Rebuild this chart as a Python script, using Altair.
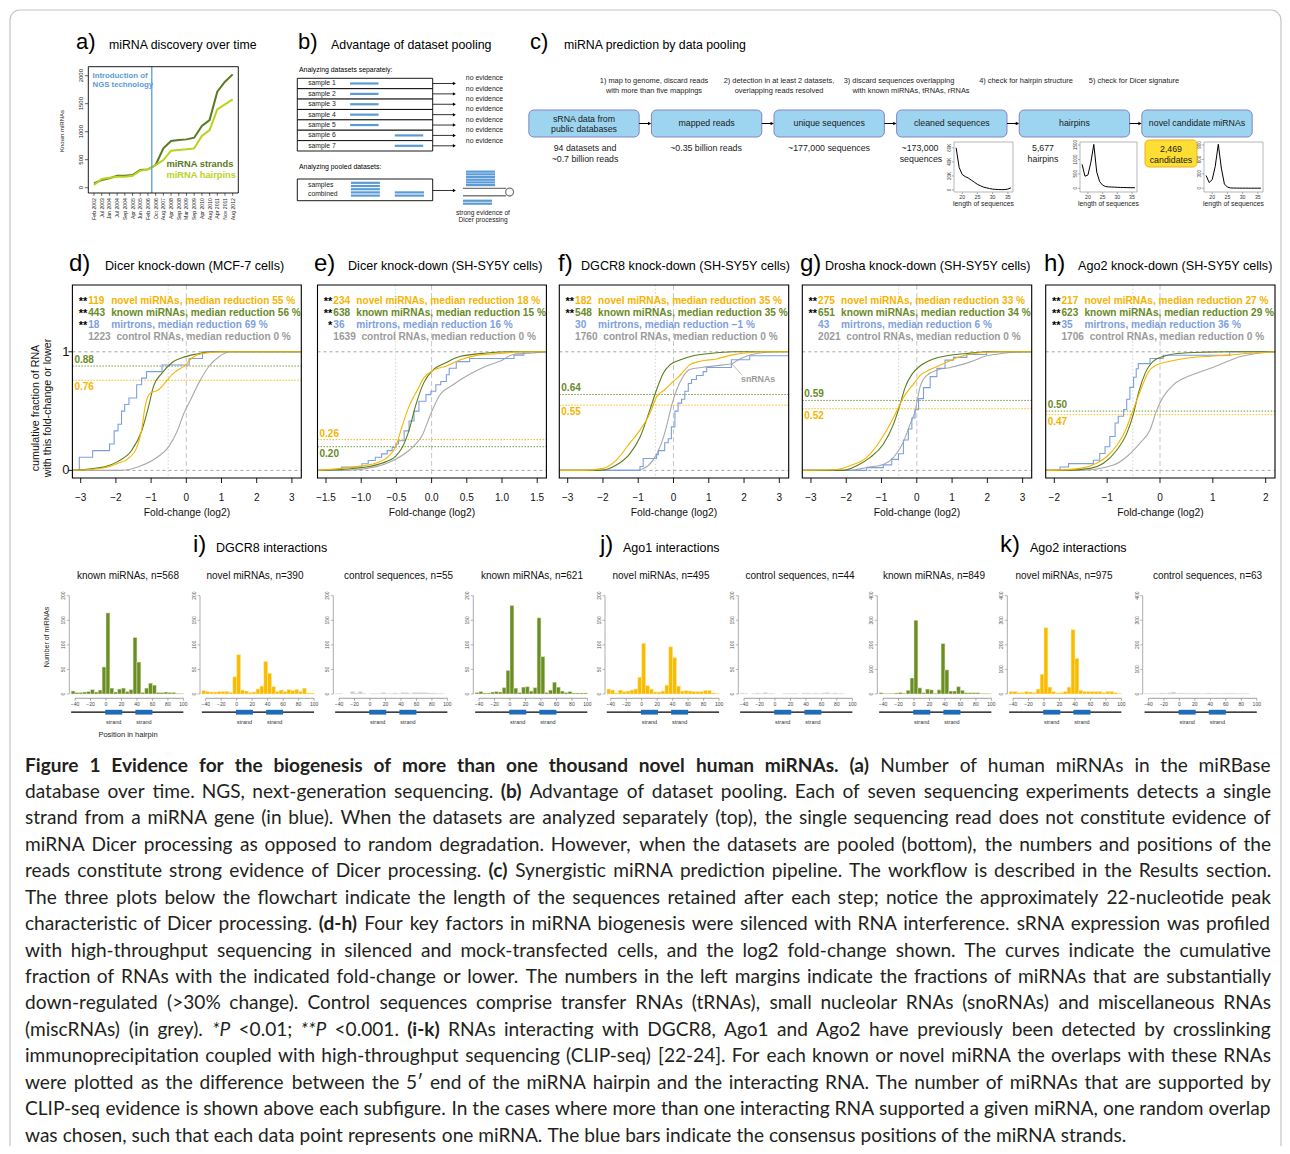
import os
import struct
import altair as alt
import pandas as pd

# ------------------------------------------------------------------ data
a_dates = ["Feb 2002", "Jul 2003", "Jan 2004", "Jul 2004", "Sep 2004", "Apr 2005", "Jun 2005",
           "Feb 2006", "Oct 2006", "Aug 2007", "Apr 2008", "Sep 2008", "Mar 2009", "Sep 2009",
           "Apr 2010", "Aug 2010", "Apr 2011", "Nov 2011", "Aug 2012"]
a_strands = [77, 137, 167, 214, 214, 226, 315, 327, 405, 702, 833, 851, 863, 893, 1101, 1208, 1714, 1893, 2024]
a_hairpins = [48, 155, 179, 196, 196, 214, 304, 327, 405, 494, 661, 673, 685, 702, 923, 1030, 1399, 1488, 1577]
a_yticks = [0, 500, 1000, 1500, 2000]

b_samples = ["sample 1", "sample 2", "sample 3", "sample 4", "sample 5", "sample 6", "sample 7"]
b_read_start = [39, 39, 39, 39, 39, 72, 72]
b_read_end = [60, 60, 60, 60, 60, 93, 93]
b_pool_level = [1, 2, 3, 4, 5, 1, 2]
b_pool_start = [39.6, 39.6, 39.6, 39.6, 39.6, 72, 72]
b_pool_end = [61, 61, 61, 61, 61, 93.6, 93.6]
b_hp_upper = [1.2, 2.2, 3.2, 4.2, 5.2, 6.2]
b_hp_lower = [-4.6, -5.7]

c_boxes = ["mapped reads", "unique sequences", "cleaned sequences", "hairpins", "novel candidate miRNAs"]
c_steps1 = ["1) map to genome, discard reads", "2) detection in at least 2 datasets,",
            "3) discard sequences overlapping", "4) check for hairpin structure", "5) check for Dicer signature"]
c_steps2 = ["with more than five mappings", "overlapping reads resolved", "with known miRNAs, tRNAs, rRNAs", "", ""]
c_len = list(range(18, 37))
c_clean = [60, 32, 22, 19, 17, 14, 11, 8, 6, 4, 3, 2, 1.2, 0.8, 0.6, 0.5, 0.6, 1.2, 3]
c_hairpin = [830, 420, 460, 900, 1520, 560, 230, 110, 60, 50, 45, 40, 35, 30, 28, 25, 22, 20, 20]
c_cand = [265, 120, 180, 460, 915, 420, 90, 25, 8, 5, 4, 3, 3, 3, 2, 2, 2, 2, 2]

# cumulative curves (fold-change log2, cumulative fraction)
D_NOVEL = ([-3.24, -2.37, -1.94, -1.65, -1.41, -1.27, -1.17, -1.03, -0.79, -0.60, -0.40, -0.02, 0.17, 0.46, 1.04, 3.26],
           [0, 0.02, 0.06, 0.10, 0.19, 0.34, 0.54, 0.65, 0.68, 0.74, 0.81, 0.89, 0.95, 0.986, 1.0, 1.0])
D_KNOWN = ([-3.24, -2.32, -1.94, -1.55, -1.27, -1.07, -0.93, -0.69, -0.40, -0.12, 0.27, 0.84, 3.26],
           [0, 0.03, 0.076, 0.17, 0.33, 0.54, 0.71, 0.82, 0.91, 0.95, 0.98, 1.0, 1.0])
D_MIRT = ([-3.24, -3.04, -2.66, -2.18, -2.05, -1.94, -1.84, -1.75, -1.63, -1.41, -1.27, -1.13, -0.69, 0.08, 0.46, 3.26],
          [0, 0.111, 0.167, 0.222, 0.333, 0.389, 0.5, 0.556, 0.611, 0.722, 0.778, 0.833, 0.889, 0.944, 1.0, 1.0])
D_CTRL = ([-3.24, -1.84, -1.36, -0.88, -0.50, -0.26, -0.07, 0.08, 0.36, 0.65, 0.94, 1.23, 3.26],
          [0, 0, 0.03, 0.10, 0.20, 0.33, 0.48, 0.57, 0.74, 0.88, 0.96, 1.0, 1.0])

E_NOVEL = ([-1.617, -1.04, -0.80, -0.61, -0.51, -0.42, -0.32, -0.20, -0.11, 0.01, 0.21, 0.40, 0.64, 0.97, 1.36, 1.632],
           [0, 0.034, 0.06, 0.12, 0.20, 0.37, 0.54, 0.68, 0.78, 0.84, 0.88, 0.93, 0.97, 0.986, 1.0, 1.0])
E_KNOWN = ([-1.617, -1.04, -0.71, -0.51, -0.42, -0.32, -0.23, -0.11, 0.01, 0.21, 0.40, 0.78, 1.12, 1.632],
           [0, 0.02, 0.06, 0.12, 0.19, 0.34, 0.54, 0.74, 0.84, 0.91, 0.96, 0.99, 1.0, 1.0])
E_MIRT = ([-1.617, -1.28, -0.99, -0.90, -0.80, -0.71, -0.63, -0.56, -0.51, -0.47, -0.39, -0.32, -0.25, -0.18, -0.08,
           -0.01, 0.06, 0.13, 0.21, 0.25, 0.35, 0.54, 1.17, 1.31, 1.632],
          [0, 0.028, 0.056, 0.083, 0.111, 0.139, 0.167, 0.194, 0.222, 0.25, 0.333, 0.417, 0.5, 0.583, 0.639,
           0.667, 0.722, 0.75, 0.806, 0.861, 0.917, 0.944, 0.972, 1.0, 1.0])
E_CTRL = ([-1.617, -1.23, -0.80, -0.56, -0.32, -0.13, -0.01, 0.11, 0.30, 0.54, 0.78, 0.97, 1.17, 1.45, 1.632],
          [0, 0, 0.03, 0.08, 0.17, 0.30, 0.48, 0.63, 0.72, 0.81, 0.88, 0.92, 0.98, 0.99, 1.0])

F_NOVEL = ([-3.24, -2.56, -2.0, -1.62, -1.24, -0.95, -0.67, -0.48, -0.25, -0.01, 0.18, 0.46, 0.75, 1.22, 1.60, 2.16, 2.64, 3.26],
           [0, 0, 0.017, 0.087, 0.23, 0.34, 0.48, 0.62, 0.68, 0.75, 0.80, 0.89, 0.92, 0.94, 0.97, 0.994, 1.0, 1.0])
F_KNOWN = ([-3.24, -2.09, -1.62, -1.24, -0.95, -0.67, -0.48, -0.29, -0.10, 0.18, 0.56, 1.03, 1.69, 3.26],
           [0, 0, 0.045, 0.14, 0.28, 0.51, 0.68, 0.82, 0.89, 0.93, 0.966, 0.986, 1.0, 1.0])
F_MIRT = ([-3.24, -0.95, -0.86, -0.48, -0.43, -0.25, -0.15, -0.06, 0.04, 0.13, 0.23, 0.32, 0.42, 0.51, 0.65, 0.84, 0.94, 1.64, 2.16, 3.26],
          [0, 0.033, 0.1, 0.133, 0.167, 0.233, 0.267, 0.367, 0.5, 0.567, 0.6, 0.667, 0.733, 0.767, 0.8, 0.833, 0.867, 0.933, 0.967, 0.967])
F_CTRL = ([-3.24, -1.05, -0.86, -0.58, -0.34, -0.20, -0.06, 0.09, 0.27, 0.46, 0.84, 1.41, 1.65, 1.88, 2.35, 2.92, 3.26],
          [0, 0, 0.014, 0.087, 0.23, 0.37, 0.54, 0.68, 0.79, 0.85, 0.87, 0.89, 0.90, 0.94, 0.986, 1.0, 1.0])

G_NOVEL = ([-3.24, -2.36, -1.89, -1.42, -1.04, -0.76, -0.57, -0.38, -0.09, 0.09, 0.38, 0.76, 1.13, 1.42, 1.89, 2.36, 3.26],
           [0, 0.005, 0.04, 0.11, 0.25, 0.39, 0.50, 0.615, 0.73, 0.80, 0.85, 0.90, 0.95, 0.975, 0.994, 1.0, 1.0])
G_KNOWN = ([-3.24, -2.08, -1.70, -1.32, -0.95, -0.66, -0.47, -0.33, -0.14, 0.09, 0.47, 0.85, 1.42, 2.08, 3.26],
           [0, 0, 0.04, 0.11, 0.22, 0.39, 0.56, 0.70, 0.81, 0.88, 0.94, 0.966, 0.986, 1.0, 1.0])
G_MIRT = ([-3.24, -1.42, -0.95, -0.71, -0.52, -0.38, -0.24, -0.14, -0.05, 0.05, 0.19, 0.38, 0.57, 0.80, 1.04, 1.42, 1.98, 3.26],
          [0, 0.023, 0.047, 0.093, 0.14, 0.256, 0.349, 0.442, 0.512, 0.605, 0.698, 0.791, 0.86, 0.93, 0.953, 0.977, 1.0, 1.0])
G_CTRL = ([-3.24, -1.89, -1.42, -0.95, -0.66, -0.38, -0.19, -0.05, 0.09, 0.28, 0.57, 0.95, 1.32, 1.61, 1.89, 2.27, 2.65, 3.12, 3.26],
          [0, 0, 0.025, 0.05, 0.11, 0.24, 0.39, 0.50, 0.70, 0.80, 0.845, 0.868, 0.896, 0.924, 0.958, 0.98, 0.994, 1.0, 1.0])

H_NOVEL = ([-2.165, -2.08, -1.51, -1.20, -1.01, -0.82, -0.66, -0.54, -0.44, -0.32, -0.22, -0.06, 0.19, 0.57, 0.95, 1.32, 1.64, 2.178],
           [0, 0, 0.017, 0.06, 0.115, 0.21, 0.33, 0.47, 0.59, 0.73, 0.83, 0.89, 0.92, 0.95, 0.963, 0.972, 0.986, 1.0])
H_KNOWN = ([-2.165, -1.83, -1.32, -1.07, -0.82, -0.63, -0.50, -0.41, -0.28, -0.13, 0.06, 0.32, 0.82, 1.32, 2.178],
           [0, 0, 0.017, 0.06, 0.17, 0.31, 0.48, 0.65, 0.82, 0.92, 0.96, 0.986, 0.997, 1.0, 1.0])
H_MIRT = ([-2.165, -1.89, -1.73, -1.26, -1.14, -1.04, -0.95, -0.85, -0.79, -0.69, -0.63, -0.57, -0.50, -0.45, -0.41, -0.19, 0.06, 1.32, 2.178],
          [0, 0.029, 0.057, 0.086, 0.143, 0.2, 0.286, 0.4, 0.457, 0.514, 0.6, 0.7, 0.786, 0.857, 0.9, 0.943, 0.971, 1.0, 1.0])
H_CTRL = ([-2.165, -1.51, -0.88, -0.63, -0.38, -0.19, -0.06, 0.06, 0.25, 0.44, 0.69, 1.01, 1.26, 1.51, 1.83, 2.178],
          [0, 0, 0.045, 0.115, 0.23, 0.34, 0.51, 0.62, 0.72, 0.775, 0.82, 0.87, 0.916, 0.958, 0.986, 1.0])

D_LEG = [("**", "119", "novel miRNAs, median reduction 55 %"), ("**", "443", "known miRNAs, median reduction 56 %"),
         ("**", "18", "mirtrons, median reduction 69 %"), ("", "1223", "control RNAs, median reduction 0 %")]
E_LEG = [("**", "234", "novel miRNAs, median reduction 18 %"), ("**", "638", "known miRNAs, median reduction 15 %"),
         ("*", "36", "mirtrons, median reduction 16 %"), ("", "1639", "control RNAs, median reduction 0 %")]
F_LEG = [("**", "182", "novel miRNAs, median reduction 35 %"), ("**", "548", "known miRNAs, median reduction 35 %"),
         ("", "30", "mirtrons, median reduction \u22121 %"), ("", "1760", "control RNAs, median reduction 0 %")]
G_LEG = [("**", "275", "novel miRNAs, median reduction 33 %"), ("**", "651", "known miRNAs, median reduction 34 %"),
         ("", "43", "mirtrons, median reduction 6 %"), ("", "2021", "control RNAs, median reduction 0 %")]
H_LEG = [("**", "217", "novel miRNAs, median reduction 27 %"), ("**", "623", "known miRNAs, median reduction 29 %"),
         ("**", "35", "mirtrons, median reduction 36 %"), ("", "1706", "control RNAs, median reduction 0 %")]

# histogram counts, bins of 5 starting at -45
HB = list(range(-45, 100, 5))
I_KNOWN = [6, 3, 3, 4, 5, 9, 4, 8, 55, 165, 12, 4, 10, 12, 5, 9, 115, 65, 3, 12, 22, 18, 3, 3, 4, 3, 3, 1, 1]
I_NOVEL = [7, 5, 4, 4, 5, 5, 5, 3, 35, 80, 8, 6, 3, 4, 10, 16, 66, 42, 15, 5, 8, 5, 9, 7, 9, 5, 12, 2, 2]
I_CTRL = [1, 1, 0, 0, 5, 2, 5, 1, 0, 1, 1, 1, 3, 1, 1, 2, 1, 3, 3, 1, 3, 3, 3, 3, 2, 2, 1, 1, 0]
J_KNOWN = [3, 5, 2, 2, 4, 5, 4, 13, 48, 180, 12, 3, 14, 15, 6, 13, 155, 76, 3, 8, 24, 14, 6, 3, 5, 2, 2, 2, 2]
J_NOVEL = [10, 8, 2, 8, 5, 6, 8, 10, 34, 103, 17, 10, 4, 4, 6, 18, 96, 74, 16, 6, 7, 6, 5, 5, 5, 7, 7, 2, 1]
J_CTRL = [2, 1, 0, 1, 2, 1, 3, 1, 1, 0, 0, 1, 1, 1, 1, 0, 2, 2, 1, 2, 1, 2, 3, 1, 2, 1, 1, 0, 0]
K_KNOWN = [5, 2, 2, 2, 4, 6, 3, 15, 65, 300, 25, 5, 20, 17, 3, 17, 205, 98, 12, 12, 30, 15, 5, 5, 5, 5, 2, 2, 1]
K_NOVEL = [10, 10, 5, 5, 10, 8, 5, 20, 80, 270, 28, 10, 4, 5, 10, 28, 262, 145, 15, 10, 10, 10, 10, 10, 5, 10, 10, 5, 2]
K_CTRL = [3, 1, 1, 2, 4, 3, 5, 8, 3, 4, 3, 3, 3, 3, 2, 2, 4, 3, 3, 2, 3, 3, 3, 2, 1, 2, 1, 0, 0]

CAP_LINES = [
    "B:Figure 1 Evidence for the biogenesis of more than one thousand novel human miRNAs. (a)|R:Number of human miRNAs in the miRBase",
    "R:database over time. NGS, next-generation sequencing.|B:(b)|R:Advantage of dataset pooling. Each of seven sequencing experiments detects a single",
    "R:strand from a miRNA gene (in blue). When the datasets are analyzed separately (top), the single sequencing read does not constitute evidence of",
    "R:miRNA Dicer processing as opposed to random degradation. However, when the datasets are pooled (bottom), the numbers and positions of the",
    "R:reads constitute strong evidence of Dicer processing.|B:(c)|R:Synergistic miRNA prediction pipeline. The workflow is described in the Results section.",
    "R:The three plots below the flowchart indicate the length of the sequences retained after each step; notice the approximately 22-nucleotide peak",
    "R:characteristic of Dicer processing.|B:(d-h)|R:Four key factors in miRNA biogenesis were silenced with RNA interference. sRNA expression was profiled",
    "R:with high-throughput sequencing in silenced and mock-transfected cells, and the log2 fold-change shown. The curves indicate the cumulative",
    "R:fraction of RNAs with the indicated fold-change or lower. The numbers in the left margins indicate the fractions of miRNAs that are substantially",
    "R:down-regulated (>30% change). Control sequences comprise transfer RNAs (tRNAs), small nucleolar RNAs (snoRNAs) and miscellaneous RNAs",
    "R:(miscRNAs) (in grey).|I:*P|R:<0.01;|I:**P|R:<0.001.|B:(i-k)|R:RNAs interacting with DGCR8, Ago1 and Ago2 have previously been detected by crosslinking",
    "R:immunoprecipitation coupled with high-throughput sequencing (CLIP-seq) [22-24]. For each known or novel miRNA the overlaps with these RNAs",
    "R:were plotted as the difference between the 5\u2032 end of the miRNA hairpin and the interacting RNA. The number of miRNAs that are supported by",
    "R:CLIP-seq evidence is shown above each subfigure. In the cases where more than one interacting RNA supported a given miRNA, one random overlap",
    "R:was chosen, such that each data point represents one miRNA. The blue bars indicate the consensus positions of the miRNA strands.",
]

# ------------------------------------------------------------------ helpers
OFF = 8
W, H = 1274, 1138
HELV = "Liberation Sans"
ORANGE = "#f6b400"
OLIVE = "#5b7d1c"
OLIVE_T = "#6a8b28"
BLUE = "#7d9fe0"
GREY = "#a9a9a9"
GREY_T = "#9b9b9b"
layers = []


def P(v):
    return v - OFF


def SC(dom, rng):
    return alt.Scale(domain=list(dom), range=[P(rng[0]), P(rng[1])], nice=False, zero=False)


def T(x, y, s, size=10, color="#000", align="left", baseline="middle", weight="normal", angle=None, font=HELV):
    kw = dict(align=align, baseline=baseline, fontSize=size, color=color, font=font, fontWeight=weight)
    if angle is not None:
        kw["angle"] = angle
    layers.append(alt.Chart(pd.DataFrame({"t": [s]})).mark_text(**kw).encode(
        x=alt.value(P(x)), y=alt.value(P(y)), text="t:N"))


def RECT(x0, y0, x1, y1, stroke="#000", sw=1.0, fill="#ffffff", fo=0.0, r=None):
    kw = dict(stroke=stroke, strokeWidth=sw, fill=fill, fillOpacity=fo)
    if r:
        kw["cornerRadius"] = r
    layers.append(alt.Chart(pd.DataFrame({"a": [0]})).mark_rect(**kw).encode(
        x=alt.value(P(x0)), x2=alt.value(P(x1)), y=alt.value(P(y0)), y2=alt.value(P(y1))))


def LINE(x0, y0, x1, y1, color="#000", sw=1.0):
    layers.append(alt.Chart(pd.DataFrame({"a": [0]})).mark_rule(color=color, strokeWidth=sw).encode(
        x=alt.value(P(x0)), x2=alt.value(P(x1)), y=alt.value(P(y0)), y2=alt.value(P(y1))))


def XQ(f, sc):
    return alt.X(f + ":Q", scale=sc, axis=None)


def YQ(f, sc):
    return alt.Y(f + ":Q", scale=sc, axis=None)


# frame
RECT(10, 10, 1281, 1175, stroke="#c4c4c4", sw=1.2, r=10)

# ------------------------------------------------------------------ panel a
T(76, 42, "a)", 22)
T(109, 45, "miRNA discovery over time", 12.3)
ax = SC([0, 18], [94.0, 232.7])
ay = SC([0, 2000], [187.7, 75.7])
dfa = pd.DataFrame({"i": list(range(len(a_dates))), "d": a_dates, "s": a_strands, "h": a_hairpins})
layers.append(alt.Chart(dfa).mark_line(color="#587a22", strokeWidth=2).encode(x=XQ("i", ax), y=YQ("s", ay)))
layers.append(alt.Chart(dfa).mark_line(color="#b9d31c", strokeWidth=2).encode(x=XQ("i", ax), y=YQ("h", ay)))
layers.append(alt.Chart(pd.DataFrame({"i": [7.5]})).mark_rule(color="#5b9bd5", strokeWidth=1.3).encode(
    x=XQ("i", ax), y=alt.value(P(66.7)), y2=alt.value(P(193))))
layers.append(alt.Chart(dfa).mark_rule(color="#000", strokeWidth=0.6).encode(
    x=XQ("i", ax), y=alt.value(P(193)), y2=alt.value(P(195.8))))
layers.append(alt.Chart(dfa).mark_text(angle=270, align="right", baseline="middle", fontSize=5.2, font=HELV, color="#222").encode(
    x=XQ("i", ax), y=alt.value(P(198)), text="d:N"))
dfay = pd.DataFrame({"v": a_yticks})
layers.append(alt.Chart(dfay).mark_rule(color="#000", strokeWidth=0.6).encode(
    x=alt.value(P(84.8)), x2=alt.value(P(88.3)), y=YQ("v", ay)))
layers.append(alt.Chart(dfay).mark_text(angle=270, align="center", baseline="bottom", fontSize=6, font=HELV, color="#222").encode(
    x=alt.value(P(83.5)), y=YQ("v", ay), text="v:N"))
RECT(88.3, 66.7, 238.3, 193.0, stroke="#000", sw=0.9)
T(62, 131, "Known miRNAs", 6, "#222", align="center", angle=270)
T(92.5, 75.5, "Introduction of", 7.8, "#5b9bd5", weight="bold")
T(92.5, 84.5, "NGS technology", 7.8, "#5b9bd5", weight="bold")
T(166.5, 163.5, "miRNA strands", 9.3, "#587a22", weight="bold")
T(166.5, 175, "miRNA hairpins", 9.3, "#b9d31c", weight="bold")

# ------------------------------------------------------------------ panel b
T(298, 42, "b)", 22)
T(331, 45, "Advantage of dataset pooling", 12.4)
T(299, 69.5, "Analyzing datasets separately:", 6.9)
bx = SC([0, 100], [297.3, 432.7])
by = SC([0, 7], [78.3, 151.0])
n = len(b_samples)
dfb = pd.DataFrame({"r0": list(range(n)), "r1": [i + 1 for i in range(n)], "rc": [i + 0.5 for i in range(n)],
                    "x0": [0] * n, "x1": [100] * n, "s": b_read_start, "e": b_read_end, "lab": b_samples,
                    "lx": [8] * n, "a0": [100] * n, "a1": [115] * n, "ah": [116] * n, "nx": [124.5] * n,
                    "ne": ["no evidence"] * n})
layers.append(alt.Chart(dfb).mark_rect(fill="#ffffff", stroke="#000", strokeWidth=0.9).encode(
    x=XQ("x0", bx), x2="x1:Q", y=YQ("r0", by), y2="r1:Q"))
layers.append(alt.Chart(dfb).mark_rule(color="#5b9bd5", strokeWidth=2.2).encode(
    x=XQ("s", bx), x2="e:Q", y=YQ("rc", by)))
layers.append(alt.Chart(dfb).mark_text(align="left", baseline="middle", fontSize=6.8, font=HELV, color="#222").encode(
    x=XQ("lx", bx), y=YQ("rc", by), text="lab:N"))
layers.append(alt.Chart(dfb).mark_rule(color="#000", strokeWidth=0.8).encode(
    x=XQ("a0", bx), x2="a1:Q", y=YQ("rc", by)))
layers.append(alt.Chart(dfb).mark_point(shape="triangle-right", filled=True, color="#000", size=12, opacity=1).encode(
    x=XQ("ah", bx), y=YQ("rc", by)))
layers.append(alt.Chart(dfb).mark_text(align="left", baseline="middle", fontSize=6.9, font=HELV, color="#222").encode(
    x=XQ("nx", bx), y=YQ("r0", by), text="ne:N"))
T(299, 166.5, "Analyzing pooled datasets:", 6.9)
py = SC([-0.6, 6.2], [200.7, 179.0])
layers.append(alt.Chart(pd.DataFrame({"x0": [0], "x1": [100], "y0": [-0.6], "y1": [6.2]})).mark_rect(
    fill="#ffffff", stroke="#000", strokeWidth=0.9).encode(x=XQ("x0", bx), x2="x1:Q", y=YQ("y0", py), y2="y1:Q"))
layers.append(alt.Chart(pd.DataFrame({"l": b_pool_level, "s": b_pool_start, "e": b_pool_end})).mark_rule(
    color="#5b9bd5", strokeWidth=2.2).encode(x=XQ("s", bx), x2="e:Q", y=YQ("l", py)))
layers.append(alt.Chart(pd.DataFrame({"a0": [100], "a1": [115], "l": [2.6]})).mark_rule(color="#000", strokeWidth=0.8).encode(
    x=XQ("a0", bx), x2="a1:Q", y=YQ("l", py)))
layers.append(alt.Chart(pd.DataFrame({"a": [116], "l": [2.6]})).mark_point(
    shape="triangle-right", filled=True, color="#000", size=12, opacity=1).encode(x=XQ("a", bx), y=YQ("l", py)))
T(308, 184.5, "samples", 6.8, "#222")
T(308, 193.8, "combined", 6.8, "#222")
hx = SC([0, 60], [460, 520])
hy = SC([-6, 7], [204.5, 169.5])
layers.append(alt.Chart(pd.DataFrame({"l": b_hp_upper, "s": [6] * 6, "e": [35] * 6})).mark_rule(
    color="#5b9bd5", strokeWidth=2.2).encode(x=XQ("s", hx), x2="e:Q", y=YQ("l", hy)))
layers.append(alt.Chart(pd.DataFrame({"l": b_hp_lower, "s": [3] * 2, "e": [32] * 2})).mark_rule(
    color="#5b9bd5", strokeWidth=2.2).encode(x=XQ("s", hx), x2="e:Q", y=YQ("l", hy)))
layers.append(alt.Chart(pd.DataFrame({"l": [0, -2.75], "s": [3, 3], "e": [46, 46]})).mark_rule(
    color="#7a7a7a", strokeWidth=1.3).encode(x=XQ("s", hx), x2="e:Q", y=YQ("l", hy)))
layers.append(alt.Chart(pd.DataFrame({"x": [49.6], "l": [-1.375]})).mark_point(
    shape="circle", filled=False, color="#7a7a7a", size=62, strokeWidth=1.3, opacity=1).encode(x=XQ("x", hx), y=YQ("l", hy)))
T(483, 212.5, "strong evidence of", 6.6, "#222", align="center")
T(483, 219.8, "Dicer processing", 6.6, "#222", align="center")

# ------------------------------------------------------------------ panel c
T(530, 42, "c)", 22)
T(564, 45, "miRNA prediction by data pooling", 12.3)
cx = SC([0, 5], [584, 1197])
dfc = pd.DataFrame({"i": list(range(6)), "a": [i - 0.45 for i in range(6)], "b": [i + 0.45 for i in range(6)]})
layers.append(alt.Chart(dfc).mark_rect(fill="#9dd4f0", stroke="#8683c4", strokeWidth=1, cornerRadius=5).encode(
    x=XQ("a", cx), x2="b:Q", y=alt.value(P(110)), y2=alt.value(P(137))))
dfar = pd.DataFrame({"a": [i + 0.45 for i in range(5)], "b": [i + 0.54 for i in range(5)], "h": [i + 0.535 for i in range(5)]})
layers.append(alt.Chart(dfar).mark_rule(color="#000", strokeWidth=1).encode(
    x=XQ("a", cx), x2="b:Q", y=alt.value(P(123.5))))
layers.append(alt.Chart(dfar).mark_point(shape="triangle-right", filled=True, color="#000", size=14, opacity=1).encode(
    x=XQ("h", cx), y=alt.value(P(123.5))))
dfbl = pd.DataFrame({"i": [1, 2, 3, 4, 5], "t": c_boxes})
layers.append(alt.Chart(dfbl).mark_text(align="center", baseline="middle", fontSize=8.8, font=HELV, color="#1a1a1a").encode(
    x=XQ("i", cx), y=alt.value(P(123)), text="t:N"))
T(584, 118.5, "sRNA data from", 8.8, "#1a1a1a", align="center")
T(584, 128.5, "public databases", 8.8, "#1a1a1a", align="center")
for cxp, s1, s2 in zip([654, 779, 899, 1026, 1134], c_steps1, c_steps2):
    T(cxp, 80.5, s1, 7.4, "#222", align="center")
    if s2:
        T(cxp + (12 if s2.startswith("with known") else 0), 90.5, s2, 7.4, "#222", align="center")
T(585, 148, "94 datasets and", 8.8, "#1a1a1a", align="center")
T(585, 159, "~0.7 billion reads", 8.8, "#1a1a1a", align="center")
T(706, 148, "~0.35 billion reads", 8.8, "#1a1a1a", align="center")
T(829, 148, "~177,000 sequences", 8.8, "#1a1a1a", align="center")
T(920, 148, "~173,000", 8.8, "#1a1a1a", align="center")
T(921, 159, "sequences", 8.8, "#1a1a1a", align="center")
T(1043, 148, "5,677", 8.8, "#1a1a1a", align="center")
T(1043, 159, "hairpins", 8.8, "#1a1a1a", align="center")
RECT(1145, 140, 1197, 167, stroke="#eab31f", sw=1, fill="#fdde34", fo=1, r=4)
T(1171, 149, "2,469", 8.8, "#1a1a1a", align="center")
T(1171, 160, "candidates", 8.8, "#1a1a1a", align="center")


def mini(x0, x1, vals, ydom, yt, ylab):
    mx = SC([17.3, 36.7], [x0, x1])
    my = SC(ydom, [192, 142])
    layers.append(alt.Chart(pd.DataFrame({"L": c_len, "v": vals})).mark_line(color="#000", strokeWidth=1).encode(
        x=XQ("L", mx), y=YQ("v", my)))
    dft = pd.DataFrame({"t": [20, 25, 30, 35]})
    layers.append(alt.Chart(dft).mark_rule(color="#555", strokeWidth=0.5).encode(
        x=XQ("t", mx), y=alt.value(P(192)), y2=alt.value(P(194))))
    layers.append(alt.Chart(dft).mark_text(align="center", baseline="middle", fontSize=5.2, font=HELV, color="#333").encode(
        x=XQ("t", mx), y=alt.value(P(197)), text="t:N"))
    dyt = pd.DataFrame({"v": yt, "l": ylab})
    layers.append(alt.Chart(dyt).mark_rule(color="#555", strokeWidth=0.5).encode(
        x=alt.value(P(x0 - 2)), x2=alt.value(P(x0)), y=YQ("v", my)))
    layers.append(alt.Chart(dyt).mark_text(angle=270, align="center", baseline="bottom", fontSize=4.5, font=HELV, color="#333").encode(
        x=alt.value(P(x0 - 2.5)), y=YQ("v", my), text="l:N"))
    RECT(x0, 142, x1, 192, stroke="#9a9a9a", sw=0.7)
    T((x0 + x1) / 2, 203.5, "length of sequences", 6.8, "#222", align="center")


mini(954, 1013, c_clean, [-2.9, 68.3], [0, 20, 40, 60], ["0", "20K", "40K", "60K"])
mini(1080, 1137, c_hairpin, [-128, 1604], [0, 500, 1000, 1500], ["0", "500", "1000", "1500"])
mini(1204, 1263, c_cand, [-77, 962], [0, 300, 600, 900], ["0", "300", "600", "900"])

# ------------------------------------------------------------------ panels d-h
CT, CB = 285.0, 478.0
Y0, Y1 = 470.4, 351.8
YDOM = [(Y0 - CB) / (Y0 - Y1), (Y0 - CT) / (Y0 - Y1)]
LOG07 = -0.5146


def cdf_panel(box, z, k, ticks, tlabels, curves, fk, fn, leg, letter, lx, title, tx, first=False):
    x0, x1 = box
    xs = SC([(x0 - z) / k, (x1 - z) / k], [x0, x1])
    ys = SC(YDOM, [CB, CT])
    layers.append(alt.Chart(pd.DataFrame({"y": [0.0, 1.0]})).mark_rule(color="#9a9a9a", strokeWidth=0.9, strokeDash=[3, 3]).encode(
        x=alt.value(P(x0)), x2=alt.value(P(x1)), y=YQ("y", ys)))
    layers.append(alt.Chart(pd.DataFrame({"x": [0.0]})).mark_rule(color="#c6c6c6", strokeWidth=1.0, strokeDash=[5, 3]).encode(
        x=XQ("x", xs), y=alt.value(P(CT)), y2=alt.value(P(CB))))
    layers.append(alt.Chart(pd.DataFrame({"x": [LOG07]})).mark_rule(color="#cfcfcf", strokeWidth=0.9, strokeDash=[1.5, 2]).encode(
        x=XQ("x", xs), y=alt.value(P(CT)), y2=alt.value(P(CB))))
    layers.append(alt.Chart(pd.DataFrame({"y": [fk, fn], "c": [OLIVE_T, ORANGE]})).mark_rule(strokeWidth=0.9, strokeDash=[1.5, 1.5]).encode(
        x=alt.value(P(x0)), x2=alt.value(P(x1)), y=YQ("y", ys), color=alt.Color("c:N", scale=None)))
    for key, col, interp in [("ctrl", GREY, "monotone"), ("mirt", BLUE, "step-after"),
                             ("known", OLIVE, "monotone"), ("novel", ORANGE, "monotone")]:
        xv, yv = curves[key]
        layers.append(alt.Chart(pd.DataFrame({"x": xv, "y": yv})).mark_line(color=col, strokeWidth=1.1, interpolate=interp).encode(
            x=XQ("x", xs), y=YQ("y", ys)))
    dft = pd.DataFrame({"t": ticks, "l": tlabels})
    layers.append(alt.Chart(dft).mark_rule(color="#000", strokeWidth=0.9).encode(
        x=XQ("t", xs), y=alt.value(P(CB)), y2=alt.value(P(CB + 5))))
    layers.append(alt.Chart(dft).mark_text(align="center", baseline="middle", fontSize=10, font=HELV, color="#111").encode(
        x=XQ("t", xs), y=alt.value(P(497.5)), text="l:N"))
    T((x0 + x1) / 2, 513, "Fold-change (log2)", 10.3, "#111", align="center")
    RECT(x0, CT, x1, CB, stroke="#000", sw=1.1)
    fy_k = Y0 - fk * (Y0 - Y1)
    fy_n = Y0 - fn * (Y0 - Y1)
    up_k = fk >= fn
    T(x0 + 2, fy_k - 6 if up_k else fy_k + 7, "%.2f" % fk, 10, OLIVE_T, weight="bold")
    T(x0 + 2, fy_n + 7 if up_k else fy_n - 6, "%.2f" % fn, 10, ORANGE, weight="bold")
    cols = [ORANGE, OLIVE_T, BLUE, GREY_T]
    for j, (st, num, lab) in enumerate(leg):
        yy = 300.5 + 12 * j
        if st:
            T(x0 + 14.8, yy + 1, st, 11, "#000", align="right", weight="bold")
        T(x0 + 15.8, yy, num, 10.1, cols[j], weight="bold")
        T(x0 + (44 if j == 3 else 38.8), yy, lab, 10.1, cols[j], weight="bold")
    T(lx, 264, letter, 24)
    T(tx, 266, title, 12.6)
    if first:
        dfy = pd.DataFrame({"v": [0.0, 1.0], "l": ["0", "1"]})
        layers.append(alt.Chart(dfy).mark_rule(color="#000", strokeWidth=0.9).encode(
            x=alt.value(P(x0 - 4)), x2=alt.value(P(x0)), y=YQ("v", ys)))
        layers.append(alt.Chart(dfy).mark_text(align="right", baseline="middle", fontSize=13, font=HELV, color="#111").encode(
            x=alt.value(P(x0 - 3)), y=YQ("v", ys), text="l:N"))
        T(35.5, 408, "cumulative fraction of RNA", 10.7, "#111", align="center", angle=270)
        T(47.5, 408, "with this fold-change or lower", 10.7, "#111", align="center", angle=270)


T3 = [-3, -2, -1, 0, 1, 2, 3]
L3 = ["\u22123", "\u22122", "\u22121", "0", "1", "2", "3"]
cdf_panel((72.4, 301.3), 186.3, 35.2, T3, L3,
          {"novel": D_NOVEL, "known": D_KNOWN, "mirt": D_MIRT, "ctrl": D_CTRL}, 0.88, 0.76, D_LEG,
          "d)", 69, "Dicer knock-down (MCF-7 cells)", 105, first=True)
cdf_panel((317.5, 546.4), 431.6, 70.4, [-1.5, -1.0, -0.5, 0.0, 0.5, 1.0, 1.5],
          ["\u22121.5", "\u22121.0", "\u22120.5", "0.0", "0.5", "1.0", "1.5"],
          {"novel": E_NOVEL, "known": E_KNOWN, "mirt": E_MIRT, "ctrl": E_CTRL}, 0.20, 0.26, E_LEG,
          "e)", 314, "Dicer knock-down (SH-SY5Y cells)", 348)
cdf_panel((559.3, 788.7), 673.5, 35.27, T3, L3,
          {"novel": F_NOVEL, "known": F_KNOWN, "mirt": F_MIRT, "ctrl": F_CTRL}, 0.64, 0.55, F_LEG,
          "f)", 558, "DGCR8 knock-down (SH-SY5Y cells)", 581)
cdf_panel((802.3, 1031.7), 916.8, 35.28, T3, L3,
          {"novel": G_NOVEL, "known": G_KNOWN, "mirt": G_MIRT, "ctrl": G_CTRL}, 0.59, 0.52, G_LEG,
          "g)", 800, "Drosha knock-down (SH-SY5Y cells)", 825)
cdf_panel((1045.7, 1275.0), 1160.0, 52.85, [-2, -1, 0, 1, 2], ["\u22122", "\u22121", "0", "1", "2"],
          {"novel": H_NOVEL, "known": H_KNOWN, "mirt": H_MIRT, "ctrl": H_CTRL}, 0.50, 0.47, H_LEG,
          "h)", 1044, "Ago2 knock-down (SH-SY5Y cells)", 1078)
LINE(731.5, 363.5, 741.5, 374.5, color="#a9a9a9", sw=0.8)
T(741, 378.5, "snRNAs", 8.8, GREY_T, weight="bold")

# ------------------------------------------------------------------ panels i-k
XT = [-40, -20, 0, 20, 40, 60, 80, 100]
XTL = ["\u221240", "\u221220", "0", "20", "40", "60", "80", "100"]


def hist(xa, ymax, counts, color, stroke, title, tcx):
    hxs = SC([-47.4, 107.0], [xa, xa + 119.5])
    hys = SC([0, ymax], [694.0, 595.7])
    df = pd.DataFrame({"lo": HB, "hi": [b + 5 for b in HB], "c": counts, "z": [0] * len(HB)})
    df = df[df["c"] > 0]
    layers.append(alt.Chart(df).mark_rect(color=color, stroke=stroke, strokeWidth=0.5).encode(
        x=XQ("lo", hxs), x2="hi:Q", y=YQ("c", hys), y2="z:Q"))
    layers.append(alt.Chart(pd.DataFrame({"a": [0], "b": [ymax]})).mark_rule(color="#8a8a8a", strokeWidth=0.7).encode(
        x=alt.value(P(xa)), y=YQ("a", hys), y2="b:Q"))
    dyt = pd.DataFrame({"v": [ymax * q / 4 for q in range(5)], "l": [str(int(ymax * q / 4)) for q in range(5)]})
    layers.append(alt.Chart(dyt).mark_rule(color="#8a8a8a", strokeWidth=0.6).encode(
        x=alt.value(P(xa - 2.5)), x2=alt.value(P(xa)), y=YQ("v", hys)))
    layers.append(alt.Chart(dyt).mark_text(angle=270, align="center", baseline="bottom", fontSize=5, font=HELV, color="#555").encode(
        x=alt.value(P(xa - 3)), y=YQ("v", hys), text="l:N"))
    layers.append(alt.Chart(pd.DataFrame({"a": [-40], "b": [100]})).mark_rule(color="#777", strokeWidth=0.7).encode(
        x=XQ("a", hxs), x2="b:Q", y=alt.value(P(698.3))))
    dxt = pd.DataFrame({"v": XT, "l": XTL})
    layers.append(alt.Chart(dxt).mark_rule(color="#777", strokeWidth=0.6).encode(
        x=XQ("v", hxs), y=alt.value(P(698.3)), y2=alt.value(P(700.8))))
    layers.append(alt.Chart(dxt).mark_text(align="center", baseline="middle", fontSize=5, font=HELV, color="#444").encode(
        x=XQ("v", hxs), y=alt.value(P(704.3)), text="l:N"))
    layers.append(alt.Chart(pd.DataFrame({"a": [-45], "b": [100]})).mark_rule(color="#000", strokeWidth=1.3).encode(
        x=XQ("a", hxs), x2="b:Q", y=alt.value(P(712.2))))
    dst = pd.DataFrame({"s": [-1, 38], "e": [21, 60], "m": [10, 49], "t": ["strand", "strand"]})
    layers.append(alt.Chart(dst).mark_rect(color="#1f6db8").encode(
        x=XQ("s", hxs), x2="e:Q", y=alt.value(P(709.8)), y2=alt.value(P(714.6))))
    layers.append(alt.Chart(dst).mark_text(align="center", baseline="middle", fontSize=5.5, font=HELV, color="#333").encode(
        x=XQ("m", hxs), y=alt.value(P(721.5)), text="t:N"))
    T(tcx, 576, title, 10, "#111", align="center")


OLV_B, ORG_B, GRY_B = "#6b8e23", "#f9bb00", "#cbcbcb"
OLV_S, ORG_S, GRY_S = "#e2ead0", "#fde9a6", "#e8e8e8"
hist(69.3, 200, I_KNOWN, OLV_B, OLV_S, "known miRNAs, n=568", 128)
hist(200.0, 200, I_NOVEL, ORG_B, ORG_S, "novel miRNAs, n=390", 255)
hist(333.3, 200, I_CTRL, GRY_B, GRY_S, "control sequences, n=55", 398.5)
hist(473.3, 200, J_KNOWN, OLV_B, OLV_S, "known miRNAs, n=621", 532)
hist(605.0, 200, J_NOVEL, ORG_B, ORG_S, "novel miRNAs, n=495", 661)
hist(738.3, 200, J_CTRL, GRY_B, GRY_S, "control sequences, n=44", 800)
hist(877.3, 400, K_KNOWN, OLV_B, OLV_S, "known miRNAs, n=849", 934)
hist(1007.3, 400, K_NOVEL, ORG_B, ORG_S, "novel miRNAs, n=975", 1064)
hist(1142.7, 400, K_CTRL, GRY_B, GRY_S, "control sequences, n=63", 1207.5)
T(193, 545, "i)", 24)
T(216, 548, "DGCR8 interactions", 12.5)
T(600, 545, "j)", 24)
T(623, 548, "Ago1 interactions", 12.5)
T(1000, 545, "k)", 24)
T(1030, 548, "Ago2 interactions", 12.5)
T(46.5, 637, "Number of miRNAs", 7, "#222", align="center", angle=270)
T(128, 735, "Position in hairpin", 7.5, "#222", align="center")


# ------------------------------------------------------------------ caption (justified)
class FontMetrics:
    def __init__(self, path):
        with open(path, "rb") as fh:
            d = fh.read()
        off = struct.unpack(">I", d[12:16])[0] if d[:4] == b"ttcf" else 0
        num = struct.unpack(">H", d[off + 4:off + 6])[0]
        tabs = {}
        for i in range(num):
            rec = off + 12 + 16 * i
            tag, _cs, o, _ln = struct.unpack(">4sIII", d[rec:rec + 16])
            tabs[tag] = o
        hd = tabs[b"head"]
        self.upem = struct.unpack(">H", d[hd + 18:hd + 20])[0]
        hh = tabs[b"hhea"]
        nh = struct.unpack(">H", d[hh + 34:hh + 36])[0]
        hm = tabs[b"hmtx"]
        self.adv = [struct.unpack(">H", d[hm + 4 * i:hm + 4 * i + 2])[0] for i in range(nh)]
        self.cmap = {}
        cm = tabs[b"cmap"]
        nsub = struct.unpack(">H", d[cm + 2:cm + 4])[0]
        subs = []
        for i in range(nsub):
            pid, eid, so = struct.unpack(">HHI", d[cm + 4 + 8 * i:cm + 12 + 8 * i])
            fmt = struct.unpack(">H", d[cm + so:cm + so + 2])[0]
            subs.append((fmt, pid, eid, cm + so))
        chosen = None
        for fmt, pid, eid, so in subs:
            if fmt == 12:
                chosen = (fmt, so)
                break
        if chosen is None:
            for fmt, pid, eid, so in subs:
                if fmt == 4 and (pid == 0 or (pid == 3 and eid in (1, 10))):
                    chosen = (fmt, so)
                    break
        fmt, so = chosen
        if fmt == 4:
            segx2 = struct.unpack(">H", d[so + 6:so + 8])[0]
            seg = segx2 // 2
            ends = struct.unpack(">%dH" % seg, d[so + 14:so + 14 + segx2])
            st = so + 16 + segx2
            starts = struct.unpack(">%dH" % seg, d[st:st + segx2])
            deltas = struct.unpack(">%dh" % seg, d[st + segx2:st + 2 * segx2])
            ro = st + 2 * segx2
            roffs = struct.unpack(">%dH" % seg, d[ro:ro + segx2])
            for i in range(seg):
                for c in range(starts[i], min(ends[i], 0x2FFF) + 1):
                    if roffs[i] == 0:
                        g = (c + deltas[i]) & 0xFFFF
                    else:
                        aa = ro + 2 * i + roffs[i] + 2 * (c - starts[i])
                        g = struct.unpack(">H", d[aa:aa + 2])[0]
                        if g:
                            g = (g + deltas[i]) & 0xFFFF
                    self.cmap[c] = g
        else:
            ng = struct.unpack(">I", d[so + 12:so + 16])[0]
            for i in range(ng):
                s, e, g0 = struct.unpack(">III", d[so + 16 + 12 * i:so + 28 + 12 * i])
                if s > 0x2FFF:
                    continue
                for c in range(s, min(e, 0x2FFF) + 1):
                    self.cmap[c] = g0 + (c - s)

    def width(self, s, size):
        tot = 0
        for ch in s:
            g = self.cmap.get(ord(ch), 0)
            tot += self.adv[g] if g < len(self.adv) else self.adv[-1]
        return tot * size / self.upem


class Approx:
    def __init__(self, k):
        self.k = k

    def width(self, s, size):
        return len(s) * self.k * size


files = {}
for root in ["/usr/share/fonts", "/usr/local/share/fonts", os.path.expanduser("~/.fonts"),
             os.path.expanduser("~/.local/share/fonts")]:
    if os.path.isdir(root):
        for dp, _dn, fns in os.walk(root):
            for f in fns:
                files.setdefault(f, os.path.join(dp, f))

CAP_FONTS = [("Lato", "Lato-Regular.ttf", "Lato-Bold.ttf", "Lato-Italic.ttf"),
             ("Open Sans", "OpenSans-Regular.ttf", "OpenSans-Bold.ttf", "OpenSans-Italic.ttf"),
             ("Liberation Sans", "LiberationSans-Regular.ttf", "LiberationSans-Bold.ttf", "LiberationSans-Italic.ttf")]
cap_family, metrics = None, None
for fam, rf, bf, itf in CAP_FONTS:
    if rf in files:
        try:
            mr = FontMetrics(files[rf])
            mb = FontMetrics(files[bf]) if bf in files else mr
            mi = FontMetrics(files[itf]) if itf in files else mr
            cap_family, metrics = fam, {"R": mr, "B": mb, "I": mi}
            break
        except Exception:
            pass
if metrics is None:
    cap_family = "Lato"
    metrics = {"R": Approx(0.47), "B": Approx(0.5), "I": Approx(0.46)}

CAP_L, CAP_R = 25.0, 1271.0
CAP_Y0, CAP_DY = 771.5, 26.43
parsed = []
for line in CAP_LINES:
    words = []
    for seg in line.split("|"):
        stl, txt = seg[0], seg[2:]
        for w in txt.split():
            words.append((w, stl))
    parsed.append(words)
cands = []
smin = 99.0
for words in parsed[:-1]:
    a = sum(metrics[s].width(w, 1.0) for w, s in words)
    g = len(words) - 1
    cands.append((CAP_R - CAP_L) / (a + 0.25 * g))
    smin = min(smin, (CAP_R - CAP_L) / (a + 0.16 * g))
cands.sort()
size = min(cands[len(cands) // 2], smin, 19.1)
rows = []
for li, words in enumerate(parsed):
    ws = [metrics[s].width(w, size) for w, s in words]
    if li < len(parsed) - 1:
        gap = ((CAP_R - CAP_L) - sum(ws)) / (len(words) - 1)
    else:
        gap = metrics["R"].width(" ", size)
    xx = CAP_L
    for (w, s), wd in zip(words, ws):
        rows.append({"x": P(xx), "y": P(CAP_Y0 + li * CAP_DY), "w": w, "st": s})
        xx += wd + gap
cap = pd.DataFrame(rows)
for stl, weight, fstyle in [("R", "normal", None), ("B", "bold", None), ("I", "normal", "italic")]:
    sub = cap[cap["st"] == stl]
    if len(sub) == 0:
        continue
    kw = dict(align="left", baseline="alphabetic", font=cap_family, fontSize=size, color="#231f20", fontWeight=weight)
    if fstyle:
        kw["fontStyle"] = fstyle
    layers.append(alt.Chart(sub).mark_text(**kw).encode(
        x=alt.X("x:Q", scale=None, axis=None), y=alt.Y("y:Q", scale=None, axis=None), text="w:N"))

# ------------------------------------------------------------------ assemble
chart = alt.layer(*layers).resolve_scale(x="independent", y="independent").properties(
    width=W, height=H, padding=0, background="white", autosize=alt.AutoSizeParams(type="none")
).configure_view(strokeWidth=0)
chart.save("out.html", embed_options={"renderer": "svg", "actions": False})
